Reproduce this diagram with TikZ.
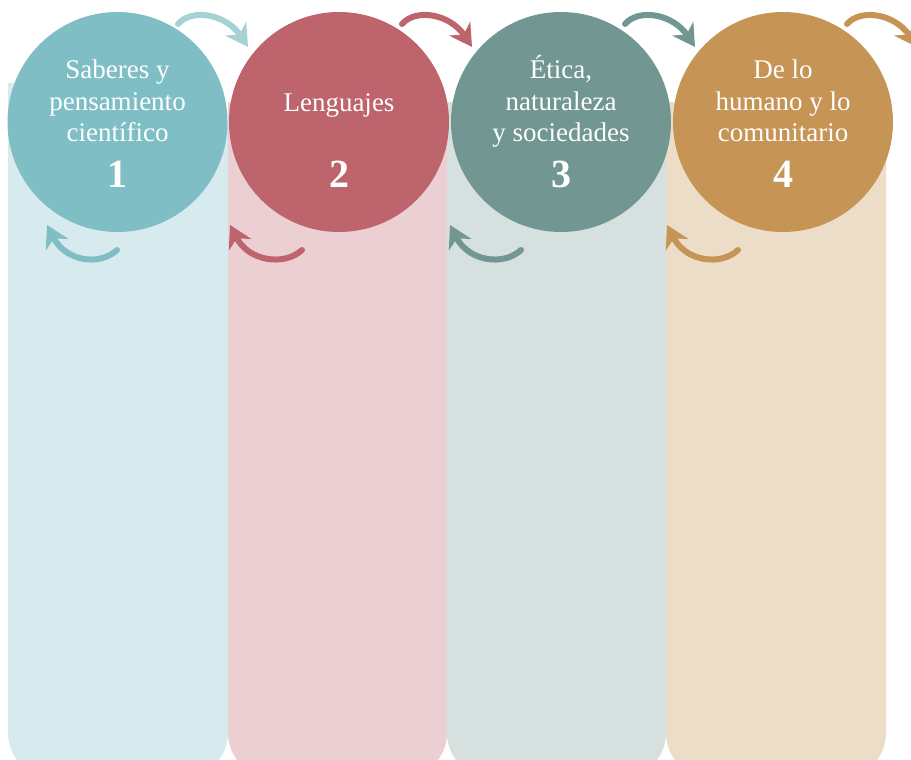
\documentclass[tikz,border=0pt]{standalone}
\usepackage{fontspec}
\setmainfont{Liberation Serif}
\usetikzlibrary{arrows.meta}
\definecolor{tealA}{HTML}{80BEC5}
\definecolor{tealL}{HTML}{A6D2D6}
\definecolor{roseA}{HTML}{BD646C}
\definecolor{greyA}{HTML}{729692}
\definecolor{goldA}{HTML}{C69455}
\definecolor{laneA}{HTML}{D7EAED}
\definecolor{laneB}{HTML}{ECCFD3}
\definecolor{laneC}{HTML}{D6E0DF}
\definecolor{laneD}{HTML}{ECDDC9}
\begin{document}
\begin{tikzpicture}[x=1pt, y=-1pt,
  circ/.style={circle, minimum size=220pt, inner sep=0pt},
  circtext/.style={text=white, align=center, anchor=base, font=\fontsize{27}{31.5}\selectfont},
  circnum/.style={text=white, anchor=base, font=\fontsize{40}{44}\selectfont\bfseries},
  flow/.style={line width=6pt, line cap=round, -{Stealth[length=22pt, width=25pt, inset=7pt]}}]
  \useasboundingbox (0,0) rectangle (911,760);
  % Columns
  \fill[laneA] (8,83) [rounded corners=45pt] -- (8,778) -- (228,778) -- (228,83) [sharp corners] -- cycle;
  \fill[laneB] (228,102) [rounded corners=45pt] -- (228,778) -- (447,778) -- (447,102) [sharp corners] -- cycle;
  \fill[laneC] (447,102) [rounded corners=45pt] -- (447,778) -- (666,778) -- (666,102) [sharp corners] -- cycle;
  \fill[laneD] (666,102) [rounded corners=45pt] -- (666,778) -- (886,778) -- (886,102) [sharp corners] -- cycle;
  % Circles
  \node (c1) [circ, fill=tealA] at (117.5,122) {};
  \node (c2) [circ, fill=roseA] at (339,122) {};
  \node (c3) [circ, fill=greyA] at (561,122) {};
  \node (c4) [circ, fill=goldA] at (783,122) {};
  % Texts (base = last line)
  \node (t1) [circtext] at (117.5,142) {Saberes y\\pensamiento\\científico};
  \node (t2) [circtext] at (339,111) {Lenguajes};
  \node (t3) [circtext] at (561,142) {Ética,\\naturaleza\\y sociedades};
  \node (t4) [circtext] at (783,142) {De lo\\humano y lo\\comunitario};
  \node (n1) [circnum] at (117.5,187) {1};
  \node (n2) [circnum] at (339,187) {2};
  \node (n3) [circnum] at (561,187) {3};
  \node (n4) [circnum] at (783,187) {4};
  % Arrow ends
  \coordinate (f1) at (178,24);  \coordinate (g1) at (248,47);
  \coordinate (f2) at (402,24);  \coordinate (g2) at (472,47);
  \coordinate (f3) at (625,24);  \coordinate (g3) at (695,47);
  \coordinate (f4) at (847,24);  \coordinate (g4) at (917,47);
  \coordinate (b1) at (117,250); \coordinate (e1) at (47,225);
  \coordinate (b2) at (302,250); \coordinate (e2) at (230,225);
  \coordinate (b3) at (521,250); \coordinate (e3) at (450,225);
  \coordinate (b4) at (738,250); \coordinate (e4) at (667,225);
  % Arrows
  \draw[flow, tealL] (f1) .. controls (192,8) and (226,14) .. (g1);
  \draw[flow, roseA] (f2) .. controls (416,8) and (450,14) .. (g2);
  \draw[flow, greyA] (f3) .. controls (639,8) and (673,14) .. (g3);
  \draw[flow, goldA] (f4) .. controls (861,8) and (895,14) .. (g4);
  \draw[flow, tealA] (b1) .. controls (100,266) and (66,262) .. (e1);
  \draw[flow, roseA] (b2) .. controls (285,266) and (249,262) .. (e2);
  \draw[flow, greyA] (b3) .. controls (504,266) and (469,262) .. (e3);
  \draw[flow, goldA] (b4) .. controls (721,266) and (686,262) .. (e4);
\end{tikzpicture}
\end{document}
